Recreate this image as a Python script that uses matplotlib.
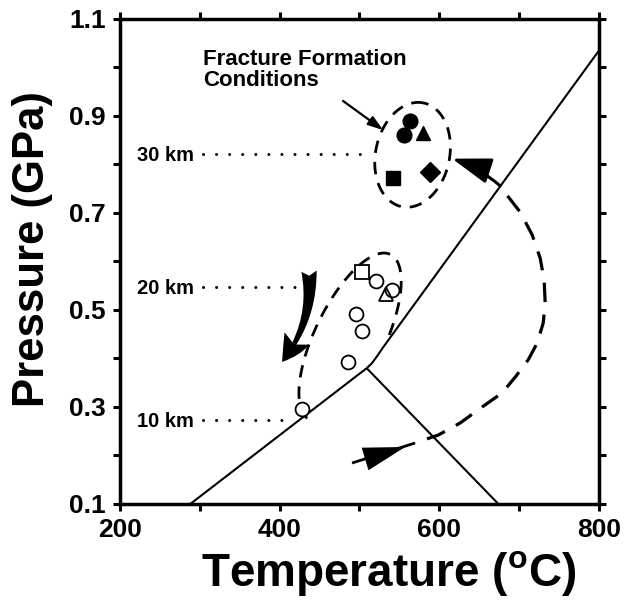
import numpy as np
import matplotlib
matplotlib.use('Agg')
import matplotlib.pyplot as plt
from matplotlib.patches import FancyArrowPatch

plt.rcParams['font.family'] = ['Liberation Sans', 'DejaVu Sans']
plt.rcParams['font.weight'] = 'bold'
plt.rcParams['lines.scale_dashes'] = False
plt.rcParams['mathtext.fontset'] = 'custom'
plt.rcParams['mathtext.rm'] = 'Liberation Sans:bold'
plt.rcParams['mathtext.bf'] = 'Liberation Sans:bold'

# ---------------- data ----------------
x_ticks = [200, 300, 400, 500, 600, 700, 800]
x_labels = ['200', '', '400', '', '600', '', '800']
y_ticks = [0.1, 0.2, 0.3, 0.4, 0.5, 0.6, 0.7, 0.8, 0.9, 1.0, 1.1]
y_labels = ['0.1', '', '0.3', '', '0.5', '', '0.7', '', '0.9', '', '1.1']

# phase boundaries
bnd_left_T = [288, 509]
bnd_left_P = [0.10, 0.380]
bnd_right_T = [509, 674]
bnd_right_P = [0.380, 0.10]
bnd_up_T = [509, 515.4, 521.7, 530, 800]
bnd_up_P = [0.380, 0.390, 0.404, 0.424, 1.035]

# fracture formation conditions (filled)
frac_circle_T = [563, 556]
frac_circle_P = [0.890, 0.860]
frac_tri_T = [580]
frac_tri_P = [0.865]
frac_sq_T = [542]
frac_sq_P = [0.772]
frac_dia_T = [588]
frac_dia_P = [0.785]

# open symbols
open_circle_T = [521, 541, 496, 503, 485, 428]
open_circle_P = [0.560, 0.541, 0.492, 0.457, 0.393, 0.296]
open_sq_T = [503]
open_sq_P = [0.578]
open_tri_T = [533]
open_tri_P = [0.533]

# depth markers
depth_labels = ['30 km', '20 km', '10 km']
depth_P = [0.822, 0.547, 0.273]
depth_end_T = [501, 421, 413]

# P-T path (dashed loop)
path_T = [569.7, 598.5, 626.1, 653.6, 678.7, 696.2, 711.3, 722.6, 730.1, 732.6,
          731.3, 726.3, 716.3, 701.2, 683.7, 676.2]
path_P = [0.226, 0.242, 0.267, 0.300, 0.329, 0.364, 0.397, 0.432, 0.473, 0.514,
          0.562, 0.607, 0.655, 0.702, 0.739, 0.756]

# ---------------- figure ----------------
fig = plt.figure(figsize=(6.28, 6.03), dpi=100)
ax = fig.add_axes([0.1911, 0.1642, 0.7627, 0.8043])
ax.set_xlim(200, 800)
ax.set_ylim(0.1, 1.1)

ax.set_xticks(x_ticks)
ax.set_xticklabels(x_labels)
ax.set_yticks(y_ticks)
ax.set_yticklabels(y_labels)
ax.tick_params(direction='out', length=5, width=2.2, top=True, right=True,
               labelsize=19, pad=5)
for s in ax.spines.values():
    s.set_linewidth(2.5)

ax.set_xlabel(r'Temperature ($\mathbf{^{o}}$C)', fontsize=33, fontweight='bold', labelpad=5)
ax.set_ylabel('Pressure (GPa)', fontsize=31.5, fontweight='bold', labelpad=12)
ax.xaxis.label.set_x(0.56)
ax.yaxis.label.set_y(0.525)

# phase boundaries
for T, P in [(bnd_left_T, bnd_left_P), (bnd_right_T, bnd_right_P), (bnd_up_T, bnd_up_P)]:
    ax.plot(T, P, color='black', lw=1.5, solid_capstyle='butt')

# depth lines & labels
for lab, P, Te in zip(depth_labels, depth_P, depth_end_T):
    ax.plot([304, Te], [P, P], color='black', lw=2.2,
            linestyle=(0, (0.01, 9.4)), dash_capstyle='round')
    ax.annotate(lab, xy=(221, P), xytext=(0, -5), textcoords='offset points',
                ha='left', va='baseline', fontsize=14.5, fontweight='bold')

# ellipse helper in pixel space
fig.canvas.draw()
def ellipse_pts(cT, cP, a_px, b_px, ang_deg, t0, t1, n=200):
    c = ax.transData.transform((cT, cP))
    phi = np.deg2rad(ang_deg)
    u = np.array([np.cos(phi), np.sin(phi)])
    v = np.array([-np.sin(phi), np.cos(phi)])
    t = np.deg2rad(np.linspace(t0, t1, n))
    pts = c + np.outer(a_px * np.cos(t), u) + np.outer(b_px * np.sin(t), v)
    d = ax.transData.inverted().transform(pts)
    return d[:, 0], d[:, 1]

# upper ellipse (fracture conditions)
eT, eP = ellipse_pts(566.5, 0.820, 53, 37, 78, 0, 360)
ax.plot(eT, eP, color='black', lw=2.0, linestyle=(0, (9, 6.5)))
# lower ellipse
eT, eP = ellipse_pts(488.2, 0.444, 92, 35, 64, -78, 178)
ax.plot(eT, eP, color='black', lw=2.0, linestyle=(0, (9, 6.5)))

# P-T loop
ax.plot(path_T, path_P, color='black', lw=2.3, linestyle=(14, (14, 9)))

# upper arrow to fracture conditions
ax.add_patch(FancyArrowPatch((676.2, 0.756), (616.0, 0.812),
             arrowstyle='-|>,head_length=24,head_width=8', mutation_scale=1,
             connectionstyle='arc3,rad=0.1', lw=2.2, color='black',
             shrinkA=0, shrinkB=0))

# lower small arrow
ax.plot([490.7, 569.7], [0.1845, 0.2258], color='black', lw=2.0, solid_capstyle='butt')
ax.add_patch(FancyArrowPatch((507.0, 0.1928), (557.1, 0.2175),
             arrowstyle='wedge,tail_width=17,shrink_factor=0.5', mutation_scale=1,
             lw=0, color='black', shrinkA=0, shrinkB=0))

# left curved retrograde arrow
ax.add_patch(FancyArrowPatch((436.8, 0.580), (403.0, 0.393),
             arrowstyle='fancy,head_length=20,head_width=20,tail_width=11', mutation_scale=1,
             connectionstyle='arc3,rad=-0.2', lw=0, color='black',
             shrinkA=0, shrinkB=0))

# markers
ax.plot(frac_circle_T, frac_circle_P, 'o', color='black', ms=10.6)
ax.plot(frac_tri_T, frac_tri_P, '^', color='black', ms=10)
ax.plot(frac_sq_T, frac_sq_P, 's', color='black', ms=10.5)
ax.plot(frac_dia_T, frac_dia_P, 'D', color='black', ms=10)

ax.plot(open_circle_T, open_circle_P, 'o', mfc='white', mec='black', mew=1.3, ms=10)
ax.plot(open_sq_T, open_sq_P, 's', mfc='none', mec='black', mew=1.3, ms=10)
ax.plot(open_tri_T, open_tri_P, '^', mfc='none', mec='black', mew=1.3, ms=10)

# annotation text
ax.text(304, 1.038, 'Fracture Formation\nConditions', ha='left', va='top',
        fontsize=16, fontweight='bold', linespacing=1.02)
ax.add_patch(FancyArrowPatch((479.4, 0.931), (529.6, 0.871),
             arrowstyle='-|>,head_length=9,head_width=3', mutation_scale=1,
             lw=1.6, color='black', shrinkA=0, shrinkB=0))

fig.savefig('out.png', dpi=100)
